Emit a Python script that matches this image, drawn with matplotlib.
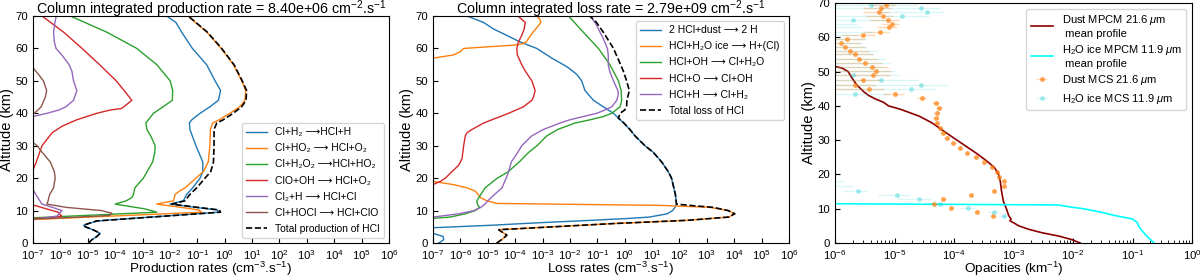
import numpy as np
import matplotlib
matplotlib.use("Agg")
import matplotlib.pyplot as plt

plt.rcParams['font.family'] = ['Liberation Sans', 'DejaVu Sans']
plt.rcParams['mathtext.fontset'] = 'custom'
plt.rcParams['mathtext.rm'] = 'Liberation Sans'
plt.rcParams['mathtext.it'] = 'Liberation Sans:italic'
plt.rcParams['mathtext.bf'] = 'Liberation Sans:bold'

# ---------------- Panel 1: production rates (log10 of cm-3.s-1) ----------------
prod_total_alt = [0, 1, 2, 3, 4, 5, 5.5, 6, 6.8, 9.5, 10.2, 11, 12, 13, 14, 15, 17, 20, 22, 25, 30, 35, 37, 38,
                  40, 42, 44, 47, 50, 55, 60, 65, 70]
prod_total_log = [-4.97, -4.85, -4.67, -4.55, -4.79, -5.09, -5.15, -4.97, -4.67, -0.15, -0.2, -1.0, -1.93, -1.45,
                  -1.36, -1.27, -1.02, -0.72, -0.51, -0.41, -0.39, -0.39, -0.29, -0.05, 0.31, 0.62, 0.78, 0.80,
                  0.64, 0.34, -0.11, -0.63, -1.33]

prod_h2_alt = [0, 1, 2, 3, 4, 5, 5.5, 6, 6.8, 9.5, 10.2, 11, 12, 13, 14, 15, 17, 20, 22, 25, 30, 35, 37, 38,
               40, 42, 44, 47, 50, 55, 60, 65, 68, 70]
prod_h2_log = [-4.97, -4.85, -4.67, -4.55, -4.79, -5.09, -5.15, -4.97, -4.67, -0.22, -0.27, -1.08, -2.0, -1.51,
               -1.45, -1.39, -1.17, -0.9, -0.8, -0.8, -1.05, -1.27, -1.29, -1.2, -0.9, -0.54, -0.23, -0.15,
               -0.35, -0.66, -1.18, -1.57, -1.78, -2.12]

prod_ho2_alt = [6.5, 9.5, 10.2, 11, 12, 12.5, 13, 14, 15, 16, 17, 20, 22, 25, 30, 35, 37, 38, 40, 42, 44, 47,
                50, 55, 60, 65, 70]
prod_ho2_log = [-9, -0.84, -0.95, -1.6, -2.48, -2.2, -1.87, -1.84, -1.81, -1.65, -1.45, -1.05, -0.78, -0.6,
                -0.54, -0.52, -0.44, -0.2, 0.19, 0.55, 0.74, 0.77, 0.62, 0.32, -0.13, -0.65, -1.35]

prod_h2o2_alt = [7, 9.5, 10.5, 12, 13, 14, 15, 17, 20, 25, 28, 30, 33, 35, 37, 40, 42, 44, 47, 50, 55, 60, 65, 70]
prod_h2o2_log = [-9, -2.48, -2.9, -4.0, -3.6, -3.39, -3.33, -3.28, -2.97, -2.63, -2.55, -2.54, -2.7, -2.84,
                 -2.88, -2.6, -2.25, -1.91, -1.9, -1.99, -2.48, -3.21, -4.3, -5.64]

prod_clo_alt = [7, 7.7, 8.3, 9.5, 10.5, 11.5, 12.2, 13, 21.5, 22.5, 25, 30, 34, 36, 38, 40, 41, 41.5, 44, 47,
                50, 55, 60, 65, 70]
prod_clo_log = [-9, -6.5, -5.95, -6.08, -6.5, -6.9, -7.3, -9, -9, -7.0, -6.88, -6.67, -6.3, -5.94, -5.4, -4.67,
                -4.18, -3.76, -3.39, -3.67, -3.96, -4.57, -5.21, -5.88, -6.67]

prod_cl2_alt = [7, 7.5, 8.3, 9, 10, 11, 12, 13, 15, 16.5, 17.5, 38.5, 39, 40, 41, 42, 44, 47, 50, 53, 55, 58,
                60, 62, 65, 68, 70]
prod_cl2_log = [-9, -6.8, -6.12, -6.05, -5.94, -6.3, -6.67, -6.75, -6.9, -7.0, -9, -9, -7.0, -6.49, -6.06,
                -5.8, -5.52, -5.4, -5.52, -5.58, -5.68, -5.95, -6.16, -6.22, -6.25, -6.2, -6.15]

prod_hocl_alt = [7, 7.6, 8.5, 9.2, 10, 11, 12, 13, 15, 17, 20, 22, 25, 28, 30, 31, 31.5, 39.5, 40, 42, 45, 47,
                 50, 52, 54, 54.5]
prod_hocl_log = [-9, -6.3, -4.2, -4.12, -4.5, -5.8, -6.49, -6.45, -6.39, -6.25, -6.19, -6.22, -6.37, -6.67,
                 -6.85, -7.0, -9, -9, -6.95, -6.7, -6.55, -6.5, -6.62, -6.8, -7.0, -9]

# ---------------- Panel 2: loss rates (log10 of cm-3.s-1) ----------------
loss_total_alt = [0, 1, 2.4, 3.5, 4.1, 5, 6, 7, 8, 9, 10, 11, 11.5, 12, 13, 15, 20, 22, 25, 28, 30, 33, 35, 37,
                  38.5, 40, 41, 42, 44, 47, 50, 53, 55, 60, 65, 68, 70]
loss_total_log = [-4.67, -4.5, -4.3, -4.5, -4.6, -2.6, -0.4, 2.3, 3.8, 4.02, 3.78, 3.23, 2.5, 1.89, 1.88, 1.85,
                  1.71, 1.59, 1.35, 1.04, 0.74, 0.38, 0.19, -0.03, -0.23, -0.17, 0.0, 0.07, 0.08, 0.17, 0.07,
                  -0.05, -0.15, -0.41, -0.78, -1.03, -1.27]

loss_dust_alt = [0, 1, 2, 3, 3.3, 4.4, 4.7, 5, 5.5, 6, 6.5, 7, 7.6, 8, 9, 10, 11, 12, 15, 20, 22, 25, 28, 30,
                 33, 35, 37, 38.5, 40, 42, 44, 47, 50, 52, 54, 55, 57, 60, 62, 64, 66, 68, 70]
loss_dust_log = [-6.79, -6.61, -6.63, -7.0, -9, -9, -7.0, -6.2, -4.8, -3.7, -2.5, -1.2, 0.2, 0.9, 1.55, 1.75,
                 1.84, 1.89, 1.85, 1.71, 1.59, 1.35, 1.04, 0.74, 0.38, 0.19, -0.03, -0.23, -0.41, -0.78,
                 -1.14, -1.45, -1.57, -1.75, -2.05, -2.24, -2.66, -3.21, -3.82, -4.3, -4.79, -5.15, -5.76]

loss_ice_alt = [0, 1, 2.4, 3.5, 4.1, 5, 6, 7, 8, 9, 10, 11, 11.6, 12.2, 13, 14, 15, 16, 17, 18, 19, 19.3,
                56.7, 57, 58, 59, 60, 60.5, 61, 61.5, 62, 63, 65, 67, 68, 69, 70]
loss_ice_log = [-4.67, -4.5, -4.3, -4.5, -4.6, -2.6, -0.4, 2.3, 3.8, 4.02, 3.78, 3.1, 1.3, -4.67, -5.03, -5.27,
                -5.35, -5.46, -5.75, -6.25, -7.0, -9, -9, -7.0, -6.25, -6.0, -5.88, -5.0, -4.06, -3.7, -3.6,
                -3.52, -3.35, -3.15, -3.06, -3.1, -3.21]

loss_oh_alt = [7.3, 7.6, 8, 9, 10, 11, 12, 13, 15, 17, 20, 22, 25, 28, 30, 33, 35, 37, 38, 39, 40, 42, 44, 47,
               50, 55, 60, 65, 70]
loss_oh_log = [-9, -7.0, -6.37, -5.82, -5.46, -5.3, -5.38, -5.4, -5.25, -5.1, -4.65, -4.25, -3.85, -3.5, -3.2,
               -2.85, -2.45, -1.81, -1.26, -0.78, -0.47, -0.17, -0.11, -0.13, -0.23, -0.54, -0.96, -1.51,
               -2.05]

loss_o_alt = [17.8, 18, 19, 20, 22, 24, 26, 30, 33, 34, 35, 37, 38, 40, 42, 44, 45, 47, 50, 53, 55, 58, 60, 62,
              64, 66, 68, 70]
loss_o_log = [-9, -7.0, -6.73, -6.55, -6.31, -6.06, -5.94, -5.88, -5.82, -5.76, -5.58, -5.15, -4.85, -4.24,
              -3.7, -3.39, -3.33, -3.27, -3.39, -3.63, -3.76, -3.92, -3.94, -3.88, -3.76, -3.67, -3.63, -3.9]

loss_h_alt = [7.6, 8, 9, 10, 11, 12, 13, 15, 17, 20, 22, 25, 28, 30, 33, 35, 37, 38, 39, 40, 41, 42, 44, 46, 47,
              50, 53, 55, 58, 60, 63, 65, 68, 70]
loss_h_log = [-9, -7.0, -6.06, -5.5, -5.25, -5.1, -5.0, -4.75, -4.48, -4.33, -4.24, -4.14, -3.9, -3.76, -3.4,
              -2.97, -2.36, -2.0, -1.51, -1.02, -0.72, -0.47, -0.29, -0.23, -0.25, -0.41, -0.55, -0.6, -0.6,
              -0.63, -0.78, -0.9, -1.08, -1.27]

# ---------------- Panel 3: opacities (km-1) ----------------
mpcm_dust_alt = [0, 1, 2, 3, 4, 5, 6, 6.5, 7, 8, 10, 12, 15, 18, 20, 22, 24, 26, 28, 30, 32, 35, 37, 39, 40, 41,
                 42, 43, 44, 46, 48, 50, 51, 51.5, 52]
mpcm_dust_val = [1.32e-2, 9.5e-3, 5.8e-3, 3.0e-3, 1.8e-3, 1.23e-3, 9.8e-4, 8.7e-4, 9.1e-4, 8.3e-4, 7.6e-4,
                 6.8e-4, 6.3e-4, 6.0e-4, 5.6e-4, 4.8e-4, 3.5e-4, 2.45e-4, 1.66e-4, 1.12e-4, 7.6e-5, 4.3e-5,
                 2.6e-5, 1.26e-5, 7.9e-6, 6.6e-6, 4.8e-6, 3.7e-6, 3.1e-6, 2.35e-6, 1.95e-6, 1.66e-6, 1.32e-6,
                 1.0e-6, 6.0e-7]

mpcm_ice_alt = [0, 1, 2, 3, 4, 5, 6, 7, 8, 9, 10, 10.5, 11.1, 11.5]
mpcm_ice_val = [0.23, 0.2, 0.174, 0.155, 0.138, 0.126, 0.12, 0.1, 0.051, 0.029, 0.015, 9.1e-3, 5.6e-3, 3.0e-7]

mcs_alt = [7.8, 9.0, 10.2, 11.4, 12.8, 13.9, 15.3, 16.7, 18.0, 19.3, 20.8, 22.2, 23.6, 25.0, 26.3, 27.8, 29.2,
           30.7, 32.2, 33.6, 35.1, 36.5, 38.0, 39.5, 40.9, 42.3, 43.6, 44.9, 46.2, 47.5, 48.9, 50.1, 51.4, 52.6,
           53.7, 55.0, 56.1, 57.2, 58.4, 59.4, 60.6, 61.6, 62.9, 63.8, 65.0, 66.2, 67.3, 68.4, 69.4]
mcs_dust_val = [4.6e-4, 2.4e-4, 8.9e-5, 4.6e-5, 6.6e-5, 1.95e-4, 4.7e-4, 6.8e-4, 7.0e-4, 5.8e-4, 5.2e-4, 4.3e-4,
                3.2e-4, 2.3e-4, 1.66e-4, 1.26e-4, 9.8e-5, 7.6e-5, 6.6e-5, 5.9e-5, 5.1e-5, 4.9e-5, 5.1e-5,
                5.6e-5, 4.9e-5, 2.9e-5, 1.03e-5, 3.7e-6, 2.2e-6, 2.95e-6, 4.3e-6, 4.8e-6, 4.2e-6, 3.2e-6,
                2.5e-6, 2.2e-6, 1.8e-6, 1.45e-6, 1.26e-6, 1.62e-6, 3.0e-6, 5.6e-6, 8.1e-6, 9.1e-6, 7.9e-6,
                6.3e-6, 5.5e-6, 5.9e-6, 7.1e-6]
mcs_dust_err = [4e-5, 2e-5, 8e-6, 5e-6, 6e-6, 1.5e-5, 4e-5, 5e-5, 5e-5, 4e-5, 4e-5, 3e-5, 2.5e-5, 2e-5, 1.5e-5,
                1.2e-5, 1e-5, 8e-6, 7e-6, 6e-6, 6e-6, 6e-6, 6e-6, 7e-6, 7e-6, 5e-6, 4e-6, 3e-6, 2.5e-6, 3e-6,
                4e-6, 4e-6, 3.5e-6, 3e-6, 2.5e-6, 2.2e-6, 2e-6, 1.8e-6, 1.4e-6, 1.6e-6, 1.7e-6, 2.5e-6, 3e-6,
                3e-6, 4e-6, 3e-6, 2.5e-6, 3e-6, 3e-6]
mcs_ice_val = [6.8e-4, 4.7e-4, 1.74e-4, 5.8e-5, 2.6e-5, 1.12e-5, 2.4e-6, 5e-7, 4e-7, 3e-7, 2e-7, 2e-7, 2e-7,
               2e-7, 2e-7, 2e-7, 2e-7, 2e-7, 2e-7, 2e-7, 2e-7, 2e-7, 2e-7, 2e-7, 2e-7, 3e-7, 2.2e-6, 1.9e-5,
               2.8e-5, 5.9e-6, 2.0e-6, 3e-7, 3e-7, 3e-7, 3e-7, 3e-7, 3e-7, 3e-7, 3e-7, 3e-7, 3e-7, 3e-7,
               3e-7, 3e-7, 2.0e-6, 1.35e-5, 3.5e-5, 2.8e-5, 4.1e-6]
mcs_ice_err = [1e-4, 1e-4, 5e-5, 3e-5, 1.5e-5, 6e-6, 1.1e-6, 1.5e-6, 1.0e-6, 6e-7, 5e-7, 3e-7, 3e-7, 3e-7,
               3e-7, 3e-7, 3e-7, 3e-7, 3e-7, 3e-7, 3e-7, 3e-7, 3e-7, 3e-7, 5e-7, 8e-7, 6e-6, 3e-5, 5e-5, 2e-5,
               1e-5, 1e-5, 6e-6, 8e-6, 7e-6, 4e-6, 5e-6, 3e-6, 2.5e-6, 3e-6, 2e-6, 4e-6, 2.5e-6, 2e-6, 6e-6,
               2.5e-5, 3e-5, 3e-5, 2e-5]

prod_title = 'Column integrated production rate = 8.40e+06 cm$^{-2}$.s$^{-1}$'
loss_title = 'Column integrated loss rate = 2.79e+09 cm$^{-2}$.s$^{-1}$'
A = '\u27f6'   # long right arrow
S2 = '\u2082'  # subscript two

prod_labels = ['Cl+H' + S2 + ' ' + A + 'HCl+H',
               'Cl+HO' + S2 + ' ' + A + ' HCl+O' + S2,
               'Cl+H' + S2 + 'O' + S2 + ' ' + A + 'HCl+HO' + S2,
               'ClO+OH ' + A + ' HCl+O' + S2,
               'Cl' + S2 + '+H ' + A + ' HCl+Cl',
               'Cl+HOCl ' + A + ' HCl+ClO',
               'Total production of HCl']
loss_labels = ['2 HCl+dust ' + A + ' 2 H',
               'HCl+H' + S2 + 'O ice ' + A + ' H+(Cl)',
               'HCl+OH ' + A + ' Cl+H' + S2 + 'O',
               'HCl+O ' + A + ' Cl+OH',
               'HCl+H ' + A + ' Cl+H' + S2,
               'Total loss of HCl']

fig = plt.figure(figsize=(12, 2.76), dpi=100)
W, H = 1200, 276
ax1 = fig.add_axes([33 / W, 33 / H, 356 / W, 227 / H])
ax2 = fig.add_axes([433 / W, 33 / H, 356 / W, 227 / H])
ax3 = fig.add_axes([835 / W, 33 / H, 357 / W, 240 / H])

lw = 1.0


def curve(ax, alt, logv, **kw):
    ax.plot(10.0 ** np.asarray(logv), alt, **kw)


curve(ax1, prod_h2_alt, prod_h2_log, color='C0', lw=lw, label=prod_labels[0])
curve(ax1, prod_ho2_alt, prod_ho2_log, color='C1', lw=lw, label=prod_labels[1])
curve(ax1, prod_h2o2_alt, prod_h2o2_log, color='C2', lw=lw, label=prod_labels[2])
curve(ax1, prod_clo_alt, prod_clo_log, color='C3', lw=lw, label=prod_labels[3])
curve(ax1, prod_cl2_alt, prod_cl2_log, color='C4', lw=lw, label=prod_labels[4])
curve(ax1, prod_hocl_alt, prod_hocl_log, color='C5', lw=lw, label=prod_labels[5])
curve(ax1, prod_total_alt, prod_total_log, color='k', ls='--', lw=1.2, label=prod_labels[6])

curve(ax2, loss_dust_alt, loss_dust_log, color='C0', lw=lw, label=loss_labels[0])
curve(ax2, loss_ice_alt, loss_ice_log, color='C1', lw=lw, label=loss_labels[1])
curve(ax2, loss_oh_alt, loss_oh_log, color='C2', lw=lw, label=loss_labels[2])
curve(ax2, loss_o_alt, loss_o_log, color='C3', lw=lw, label=loss_labels[3])
curve(ax2, loss_h_alt, loss_h_log, color='C4', lw=lw, label=loss_labels[4])
curve(ax2, loss_total_alt, loss_total_log, color='k', ls='--', lw=1.2, label=loss_labels[5])

for ax, title, xl in [(ax1, prod_title, 'Production rates (cm$^{-3}$.s$^{-1}$)'),
                      (ax2, loss_title, 'Loss rates (cm$^{-3}$.s$^{-1}$)')]:
    ax.set_xscale('log')
    ax.set_xlim(1e-7, 1e6)
    ax.set_ylim(0, 70)
    ax.set_xticks([10.0 ** k for k in range(-7, 7)])
    ax.xaxis.set_minor_locator(matplotlib.ticker.NullLocator())
    ax.set_title(title, fontsize=10.3, y=1.0, pad=1.8)
    ax.set_xlabel(xl, fontsize=9.7, labelpad=-1.6)
    ax.set_ylabel('Altitude (km)', fontsize=10.5, labelpad=1)
    ax.tick_params(labelsize=8.2, direction='in', pad=3.5)

leg_kw = dict(fontsize=7.5, handlelength=2.0, borderaxespad=0.5, labelspacing=0.58)
ax1.legend(loc='lower right', **leg_kw)
ax2.legend(loc='upper right', **leg_kw)

ax3.plot(mpcm_dust_val, mpcm_dust_alt, color='#8b0000', lw=1.2, label='Dust MPCM 21.6 $\\mu$m\n mean profile')
ax3.plot(mpcm_ice_val, mpcm_ice_alt, color='#00ffff', lw=1.2, label='H$_2$O ice MPCM 11.9 $\\mu$m\n mean profile')
ax3.errorbar(mcs_dust_val, mcs_alt, xerr=mcs_dust_err, fmt='o', ms=3.5, color=(1.0, 0.5, 0.05, 0.7),
             mec='none', ecolor=(1.0, 0.5, 0.05, 0.3), elinewidth=1.0, label='Dust MCS 21.6 $\\mu$m')
ax3.errorbar(mcs_ice_val, mcs_alt, xerr=mcs_ice_err, fmt='o', ms=3.5, color=(0.0, 0.78, 0.8, 0.35),
             mec='none', ecolor=(0.0, 0.78, 0.8, 0.15), elinewidth=1.0, label='H$_2$O ice MCS 11.9 $\\mu$m')
ax3.set_xscale('log')
ax3.set_xlim(1e-6, 1e0)
ax3.set_ylim(0, 70)
ax3.set_xlabel('Opacities (km$^{-1}$)', fontsize=9.7, labelpad=-1.6)
ax3.set_ylabel('Altitude (km)', fontsize=10.5, labelpad=1)
ax3.tick_params(which='both', labelsize=8.2, direction='in', pad=3.5)
ax3.legend(loc='upper right', fontsize=8, handlelength=2.0, borderaxespad=0.5, labelspacing=0.4)

fig.savefig('out.png', dpi=100)
